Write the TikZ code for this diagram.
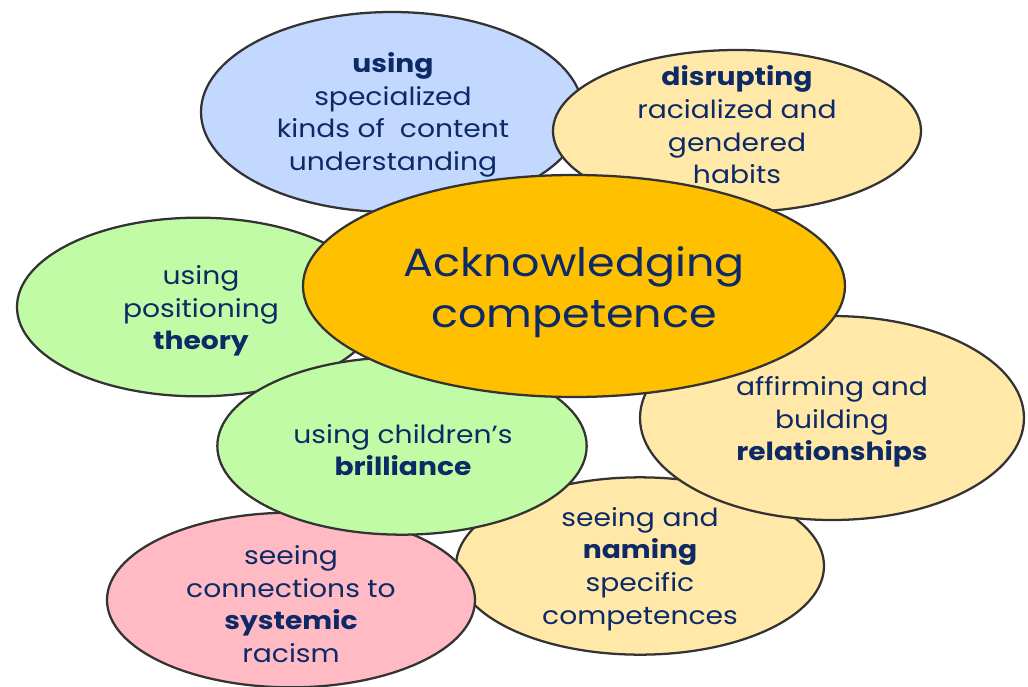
\documentclass[tikz,border=0pt]{standalone}
\usepackage{fontspec}
\setmainfont[FakeStretch=1.13]{Poppins}
\usetikzlibrary{shapes.geometric}

\definecolor{inkblue}{HTML}{0D2A66}
\definecolor{edgegray}{HTML}{333333}
\definecolor{bblue}{HTML}{C3D8FF}
\definecolor{byellow}{HTML}{FFE8A8}
\definecolor{bgreen}{HTML}{C2FBA6}
\definecolor{bpink}{HTML}{FFBAC4}
\definecolor{borange}{HTML}{FFC000}

\tikzset{
  bubble/.style={ellipse, draw=edgegray, line width=1.7pt, inner sep=0pt},
  words/.style={text=inkblue, align=center, font=\fontsize{18.7}{24.5}\selectfont},
  bigwords/.style={text=inkblue, align=center, font=\fontsize{29.5}{38}\selectfont},
}

\begin{document}
\begin{tikzpicture}[x=0.75pt, y=-0.75pt]
\useasboundingbox (0,0) rectangle (1028,686);

% content understanding
\node[bubble, fill=bblue, minimum width=286.5pt, minimum height=150pt] (e1) at (392,112) {};
\node[words] (t1) at (393,115) {\textbf{using}\\specialized\\kinds of\ \ content\\understanding};

% disrupting habits
\node[bubble, fill=byellow, minimum width=276pt, minimum height=121.5pt] (e2) at (737,131) {};
\node[words] (t2) at (737,125) {\textbf{disrupting}\\racialized and\\gendered\\habits};

% positioning theory
\node[bubble, fill=bgreen, minimum width=271.5pt, minimum height=134pt] (e3) at (198,307) {};
\node[words] (t3) at (201,311) {using\\positioning\\\textbf{theory}};

% naming competences
\node[bubble, fill=byellow, minimum width=276pt, minimum height=133pt] (e7) at (640,566) {};
\node[words] (t7) at (640,569) {seeing and\\\textbf{naming}\\specific\\competences};

% relationships
\node[bubble, fill=byellow, minimum width=288pt, minimum height=153pt] (e6) at (832,418) {};
\node[words] (t6) at (832,422) {affirming and\\building\\\textbf{relationships}};

% systemic racism
\node[bubble, fill=bpink, minimum width=276pt, minimum height=131pt] (e8) at (291,600) {};
\node[words] (t8) at (291,604) {seeing\\connections to\\\textbf{systemic}\\racism};

% children's brilliance
\node[bubble, fill=bgreen, minimum width=277pt, minimum height=133pt] (e5) at (402,446) {};
\node[words] (t5) at (403,450) {using children’s\\\textbf{brilliance}};

% central idea
\node[bubble, fill=borange, minimum width=406.5pt, minimum height=166.5pt] (e4) at (574,286) {};
\node[bigwords] (t4) at (574,292) {Acknowledging\\competence};
\end{tikzpicture}
\end{document}
